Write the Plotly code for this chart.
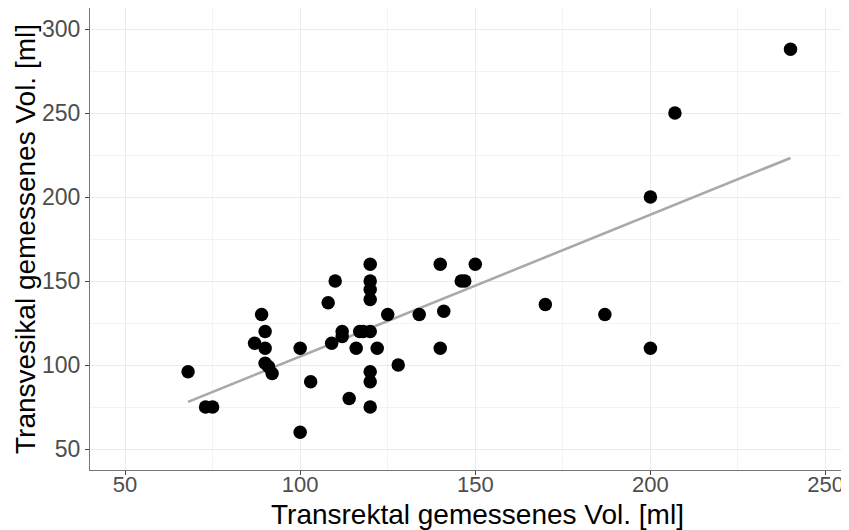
import numpy as np
import plotly.graph_objects as go

# Data
transrektal = [68, 73, 75, 87, 89, 90, 90, 90, 91, 92,
               100, 100, 103, 108, 110, 109, 112, 112, 114, 116,
               117, 118, 120, 120, 120, 120, 120, 120, 120, 120,
               122, 125, 128, 134, 140, 150, 146, 147, 141, 140,
               170, 187, 200, 200, 207, 240]
transvesikal = [96, 75, 75, 113, 130, 120, 110, 101, 99, 95,
                110, 60, 90, 137, 150, 113, 120, 117, 80, 110,
                120, 120, 120, 160, 150, 145, 139, 96, 90, 75,
                110, 130, 100, 130, 160, 160, 150, 150, 132, 110,
                136, 130, 110, 200, 250, 288]

x_ticks = [50, 100, 150, 200, 250]
y_ticks = [50, 100, 150, 200, 250, 300]

x_title = "Transrektal gemessenes Vol. [ml]"
y_title = "Transvesikal gemessenes Vol. [ml]"

# Linear regression (like geom_smooth(method = "lm"))
xa = np.array(transrektal, dtype=float)
ya = np.array(transvesikal, dtype=float)
slope, intercept = np.polyfit(xa, ya, 1)
line_x = [xa.min(), xa.max()]
line_y = [intercept + slope * v for v in line_x]

fig = go.Figure()
fig.add_trace(go.Scatter(x=line_x, y=line_y, mode="lines",
                         line=dict(color="#A9A9A9", width=2.6),
                         hoverinfo="skip", showlegend=False))
fig.add_trace(go.Scatter(x=transrektal, y=transvesikal, mode="markers",
                         marker=dict(color="black", size=13.5,
                                     line=dict(width=0)),
                         showlegend=False))

font_family = "Liberation Sans, Arial, sans-serif"

# The page body has an 8px margin, so the figure is 8px smaller
fig.update_layout(
    width=841, height=522,
    margin=dict(l=82, r=0, t=0, b=60),
    paper_bgcolor="white", plot_bgcolor="white",
    font=dict(family=font_family),
    xaxis=dict(
        range=[40, 256.7], tickvals=x_ticks,
        showgrid=True, gridcolor="#EBEBEB", gridwidth=1.2,
        minor=dict(dtick=25, tick0=25, showgrid=True,
                   gridcolor="#F3F3F3", gridwidth=0.8),
        zeroline=False,
        showline=True, linecolor="#777777", linewidth=1, mirror=True,
        ticks="outside", ticklen=4, tickcolor="#444444", tickwidth=1,
        tickfont=dict(size=22, color="#4D4D4D"),
        ticklabelstandoff=-9,
        automargin=False,
    ),
    yaxis=dict(
        range=[37.5, 312.5], tickvals=y_ticks,
        showgrid=True, gridcolor="#EBEBEB", gridwidth=1.2,
        minor=dict(dtick=25, tick0=25, showgrid=True,
                   gridcolor="#F3F3F3", gridwidth=0.8),
        zeroline=False,
        showline=True, linecolor="#777777", linewidth=1, mirror=False,
        ticks="outside", ticklen=4, tickcolor="#444444", tickwidth=1,
        tickfont=dict(size=23, color="#4D4D4D"),
        automargin=False,
    ),
    annotations=[
        dict(text=x_title, xref="paper", yref="paper",
             x=0.5105, y=0, xanchor="center", yanchor="middle",
             yshift=-44, showarrow=False,
             font=dict(size=28, color="black", family=font_family)),
        dict(text=y_title, xref="paper", yref="paper",
             x=0, y=0.5, xanchor="center", yanchor="middle",
             xshift=-65, textangle=-90, showarrow=False,
             font=dict(size=28, color="black", family=font_family)),
    ],
)

fig.write_html("out.html")
